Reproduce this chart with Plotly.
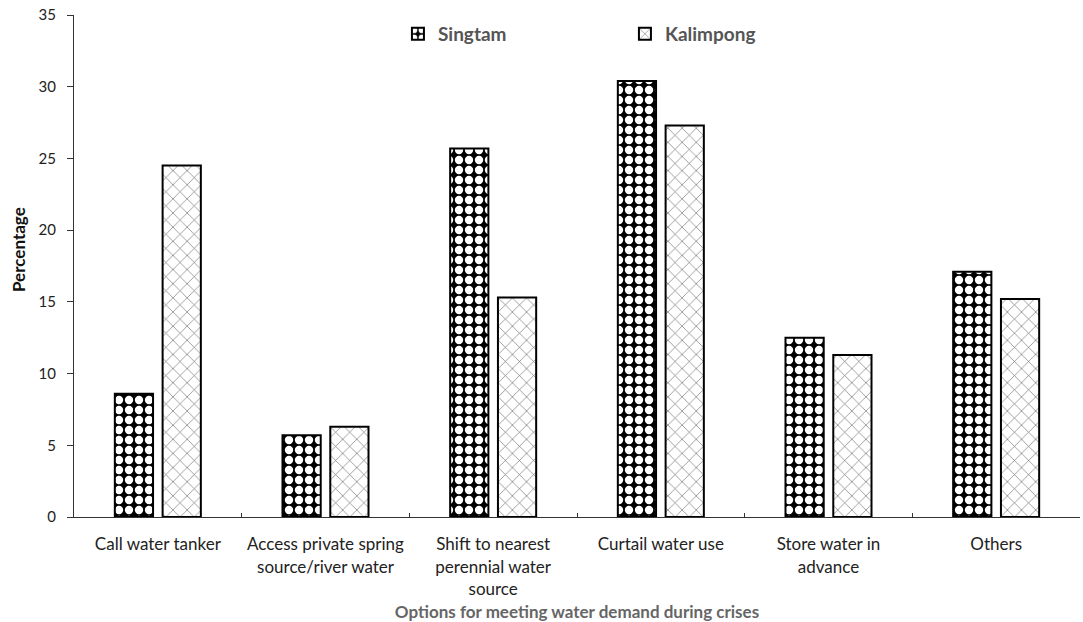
import plotly.graph_objects as go

categories = ["Call water tanker", "Access private spring<br>source/river water",
              "Shift to nearest<br>perennial water<br>source", "Curtail water use",
              "Store water in<br>advance", "Others"]
singtam = [8.6, 5.7, 25.7, 30.4, 12.5, 17.1]
kalimpong = [24.5, 6.3, 15.3, 27.3, 11.3, 15.2]

fig = go.Figure()
fig.add_trace(go.Bar(
    x=categories, y=singtam, name="Singtam",
    marker=dict(color="black", line=dict(color="black", width=2),
                pattern=dict(shape=".", fgcolor="white", bgcolor="black",
                             size=10, solidity=0.55, fillmode="replace")),
))
fig.add_trace(go.Bar(
    x=categories, y=kalimpong, name="Kalimpong",
    marker=dict(color="white", line=dict(color="black", width=2),
                pattern=dict(shape="x", fgcolor="#666666", bgcolor="white",
                             size=10, solidity=0.12, fillmode="replace")),
))

font_main = "Lato, 'Open Sans', sans-serif"
fig.update_layout(
    width=1083, height=622,
    margin=dict(l=74, r=3, t=15, b=105),
    paper_bgcolor="white", plot_bgcolor="white",
    barmode="group", bargap=0.43, bargroupgap=0.2,
    font=dict(family=font_main, size=17, color="#222"),
    legend=dict(orientation="h", x=0.322, y=1.0, xanchor="left", yanchor="top",
                entrywidth=182, entrywidthmode="pixels",
                font=dict(size=19, color="#555", family=font_main, weight="bold"),
                bgcolor="rgba(0,0,0,0)"),
    xaxis=dict(showline=True, linecolor="#333", linewidth=1, ticks="inside",
               tickson="boundaries", ticklen=4, tickcolor="#333",
               ticklabelstandoff=12, automargin=False,
               tickfont=dict(size=17, color="#222"),
               title=dict(text="<b>Options for meeting water demand during crises</b>",
                          font=dict(size=17, color="#666"), standoff=9)),
    yaxis=dict(range=[0, 35], dtick=5, showline=True, linecolor="#333", linewidth=1,
               ticks="outside", ticklen=6, tickcolor="#333", showgrid=False,
               zeroline=False, tickfont=dict(size=15, color="#222"),
               ticklabelstandoff=8, ticklabeloverflow="allow", automargin=False),
    annotations=[dict(text="<b>Percentage</b>", textangle=-90, xref="paper", yref="paper",
                      x=(18 - 74) / 1006, y=(517 - 250) / 502, showarrow=False,
                      xanchor="center", yanchor="middle",
                      font=dict(size=17, color="#111", family=font_main))],
)
fig.write_html("out.html", config={"displayModeBar": False},
               post_script="document.body.style.margin='0';document.body.style.padding='0';")
